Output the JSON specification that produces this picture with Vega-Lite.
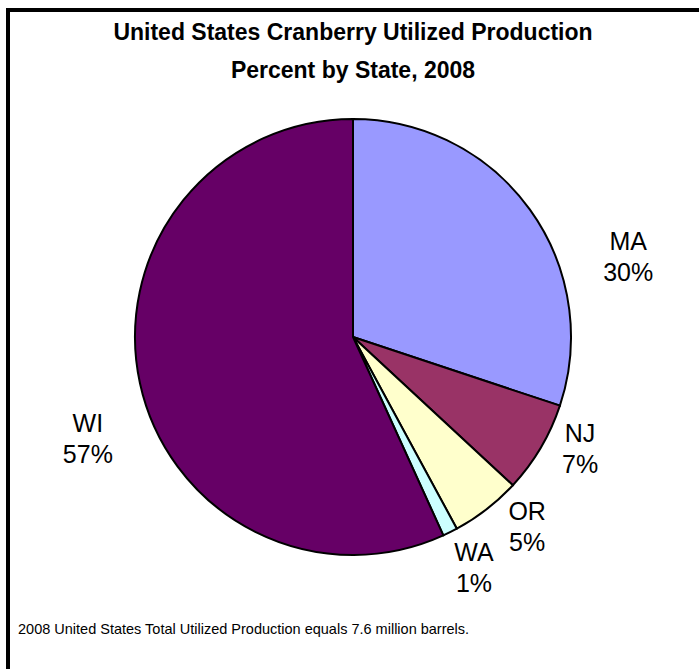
{
  "$schema": "https://vega.github.io/schema/vega-lite/v6.json",
  "autosize": "none",
  "width": 691,
  "height": 659,
  "padding": {"left": 8, "top": 10, "right": 0, "bottom": 0},
  "background": "white",
  "view": {"stroke": "black", "strokeWidth": 4, "strokeDash": [691, 1350, 659]},
  "config": {
    "view": {"stroke": "black", "strokeWidth": 4, "strokeDash": [691, 1350, 659]},
    "font": "Liberation Sans"
  },
  "title": {
    "text": ["United States Cranberry Utilized Production", "Percent by State, 2008"],
    "anchor": "start",
    "frame": "group",
    "orient": "top",
    "offset": -73,
    "dx": 345,
    "font": "Liberation Sans",
    "fontSize": 23,
    "fontWeight": "bold",
    "lineHeight": 38,
    "align": "center",
    "color": "black"
  },
  "data": {
    "values": [
      {"state": "MA", "value": 30.1, "label": "MA\n30%"},
      {"state": "NJ", "value": 6.8, "label": "NJ\n7%"},
      {"state": "OR", "value": 5.2, "label": "OR\n5%"},
      {"state": "WA", "value": 1.1, "label": "WA\n1%"},
      {"state": "WI", "value": 56.8, "label": "WI\n57%"}
    ]
  },
  "encoding": {
    "theta": {"field": "value", "type": "quantitative", "stack": true},
    "order": {"field": "state", "sort": "ascending"},
    "detail": {"field": "state", "type": "nominal"}
  },
  "layer": [
    {
      "mark": {"type": "arc", "outerRadius": 218, "stroke": "black", "strokeWidth": 2, "x": 345, "y": 327},
      "encoding": {
        "color": {
          "field": "state",
          "type": "nominal",
          "scale": {"domain": ["MA", "NJ", "OR", "WA", "WI"], "range": ["#9999FF", "#993366", "#FFFFCC", "#CCFFFF", "#660066"]},
          "legend": null
        }
      }
    },
    {
      "mark": {"type": "text", "radius": 258, "x": 345, "y": 327, "dx": 66, "dy": 56, "fontSize": 25, "lineBreak": "\n", "lineHeight": 31, "align": "center", "baseline": "middle", "font": "Liberation Sans", "color": "black"},
      "encoding": {
        "text": {"condition": {"test": "datum.state === 'MA'", "field": "label"}, "value": ""}
      }
    },
    {
      "mark": {"type": "text", "radius": 258, "x": 345, "y": 327, "dx": 5, "dy": -34, "fontSize": 25, "lineBreak": "\n", "lineHeight": 31, "align": "center", "baseline": "middle", "font": "Liberation Sans", "color": "black"},
      "encoding": {
        "text": {"condition": {"test": "datum.state === 'NJ'", "field": "label"}, "value": ""}
      }
    },
    {
      "mark": {"type": "text", "radius": 258, "x": 345, "y": 327, "dx": 16, "dy": -29, "fontSize": 25, "lineBreak": "\n", "lineHeight": 31, "align": "center", "baseline": "middle", "font": "Liberation Sans", "color": "black"},
      "encoding": {
        "text": {"condition": {"test": "datum.state === 'OR'", "field": "label"}, "value": ""}
      }
    },
    {
      "mark": {"type": "text", "radius": 258, "x": 345, "y": 327, "dx": 6, "dy": -15, "fontSize": 25, "lineBreak": "\n", "lineHeight": 31, "align": "center", "baseline": "middle", "font": "Liberation Sans", "color": "black"},
      "encoding": {
        "text": {"condition": {"test": "datum.state === 'WA'", "field": "label"}, "value": ""}
      }
    },
    {
      "mark": {"type": "text", "radius": 258, "x": 345, "y": 327, "dx": -13, "dy": 32, "fontSize": 25, "lineBreak": "\n", "lineHeight": 31, "align": "center", "baseline": "middle", "font": "Liberation Sans", "color": "black"},
      "encoding": {
        "text": {"condition": {"test": "datum.state === 'WI'", "field": "label"}, "value": ""}
      }
    },
    {
      "data": {"values": [{"note": "2008 United States Total Utilized Production equals 7.6 million barrels."}]},
      "mark": {"type": "text", "align": "left", "baseline": "middle", "fontSize": 14.5, "font": "Liberation Sans", "color": "black", "x": 10, "y": 620},
      "encoding": {"text": {"field": "note", "type": "nominal"}, "theta": null, "order": null, "detail": null}
    }
  ]
}
